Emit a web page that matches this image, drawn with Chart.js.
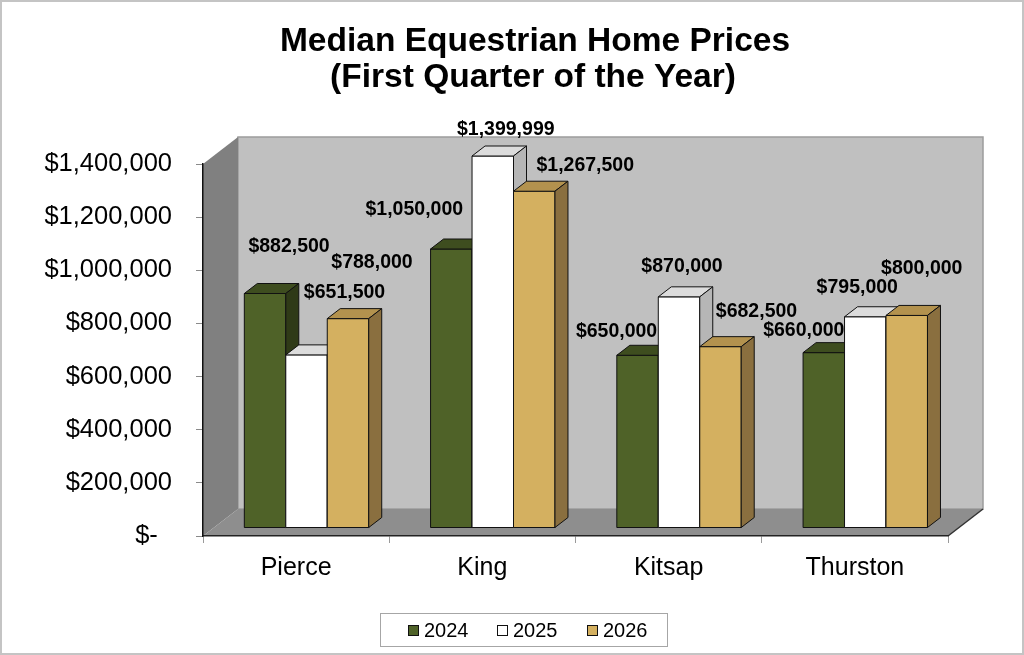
<!DOCTYPE html>
<html><head><meta charset="utf-8">
<script src="https://cdn.jsdelivr.net/npm/chart.js@4.4.1/dist/chart.umd.min.js"></script>
<style>html,body{margin:0;padding:0;background:#fff;overflow:hidden}canvas{display:block}</style>
</head><body>
<canvas id="c" width="1024" height="655"></canvas>
<script>
// ---- data ----
const categories = ['Pierce', 'King', 'Kitsap', 'Thurston'];
const seriesNames = ['2024', '2025', '2026'];
const values2024 = [882500, 1050000, 650000, 660000];
const values2025 = [651500, 1399999, 870000, 795000];
const values2026 = [788000, 1267500, 682500, 800000];
const yMin = 0, yMax = 1400000, yStep = 200000;
const titleLines = ['Median Equestrian Home Prices', '(First Quarter of the Year)'];

// ---- layout / style ----
const FONT = "'Liberation Sans', Arial, Helvetica, sans-serif";
const palette = [
  {front: '#4f6228', top: '#3e4d1f', side: '#2f3a17'},
  {front: '#ffffff', top: '#dcdcdc', side: '#b6b6b6'},
  {front: '#d4b060', top: '#b3924e', side: '#8a6f3f'}
];
const BAR_SHIFT = {x: 10.4, y: -8};
const BAR_DEPTH = {x: 13, y: -10};
const WALL_DEPTH = {x: 35, y: -27};
// manual data-label nudges (dataset -> category -> [dx, dy]) relative to bar front-top centre
const labelNudge = [
  [[24, -47], [-37, -39], [-21, -24], [-20, -22]],
  [[38, -62], [13, -26], [3, -30], [-8, -29]],
  [[24, -56], [51, -26], [36, -35], [15, -47]]
];

function poly(ctx, pts, fill, stroke, lw) {
  ctx.beginPath();
  ctx.moveTo(pts[0][0], pts[0][1]);
  for (let i = 1; i < pts.length; i++) ctx.lineTo(pts[i][0], pts[i][1]);
  ctx.closePath();
  if (fill) { ctx.fillStyle = fill; ctx.fill(); }
  if (stroke) { ctx.strokeStyle = stroke; ctx.lineWidth = lw || 1; ctx.stroke(); }
}
function money(v) { return '$' + Math.round(v).toLocaleString('en-US'); }

const scene = {
  id: 'scene',
  beforeDraw(chart) {
    const {ctx, chartArea: a, width, height} = chart;
    ctx.save();
    ctx.fillStyle = '#fff';
    ctx.fillRect(0, 0, width, height);
    const L = a.left, R = a.right, T = a.top, B = a.bottom, dx = WALL_DEPTH.x, dy = WALL_DEPTH.y;
    // back wall
    ctx.fillStyle = '#c0c0c0';
    ctx.fillRect(L + dx, T + dy, R - L, B - T);
    ctx.strokeStyle = '#9c9c9c'; ctx.lineWidth = 1.5;
    ctx.strokeRect(L + dx, T + dy, R - L, B - T);
    // left side wall
    poly(ctx, [[L, T], [L + dx, T + dy], [L + dx, B + dy], [L, B]], '#808080');
    // floor
    poly(ctx, [[L, B], [L + dx, B + dy], [R + dx, B + dy], [R, B]], '#8e8e8e');
    ctx.beginPath();
    ctx.moveTo(R, B); ctx.lineTo(R + dx, B + dy);
    ctx.strokeStyle = '#333'; ctx.lineWidth = 1.5; ctx.stroke();
    ctx.restore();
  },
  beforeDatasetsDraw(chart) {
    const ctx = chart.ctx;
    const metas = chart.data.datasets.map((d, i) => chart.getDatasetMeta(i));
    const dx = BAR_DEPTH.x, dy = BAR_DEPTH.y;
    ctx.save();
    ctx.translate(BAR_SHIFT.x, BAR_SHIFT.y);
    ctx.lineJoin = 'miter';
    const n = chart.data.labels.length;
    for (let j = 0; j < n; j++) {
      for (let i = 0; i < metas.length; i++) {
        const el = metas[i].data[j];
        const p = el.getProps(['x', 'y', 'base', 'width'], true);
        const x0 = p.x - p.width / 2, x1 = p.x + p.width / 2, yt = p.y, yb = p.base;
        const c = palette[i];
        poly(ctx, [[x0, yt], [x1, yt], [x1, yb], [x0, yb]], c.front, '#111', 1);
        poly(ctx, [[x0, yt], [x0 + dx, yt + dy], [x1 + dx, yt + dy], [x1, yt]], c.top, '#111', 1);
        poly(ctx, [[x1, yt], [x1 + dx, yt + dy], [x1 + dx, yb + dy], [x1, yb]], c.side, '#111', 1);
      }
    }
    // data labels
    ctx.fillStyle = '#000';
    ctx.font = 'bold 19.5px ' + FONT;
    ctx.textAlign = 'center';
    ctx.textBaseline = 'middle';
    for (let i = 0; i < metas.length; i++) {
      const ds = chart.data.datasets[i];
      for (let j = 0; j < n; j++) {
        const p = metas[i].data[j].getProps(['x', 'y'], true);
        const nd = labelNudge[i][j];
        ctx.fillText(money(ds.data[j]), p.x + nd[0], p.y + nd[1]);
      }
    }
    ctx.restore();
    return false;
  },
  afterDraw(chart) {
    const {ctx, width, height} = chart;
    ctx.save();
    // title
    ctx.fillStyle = '#000';
    ctx.font = 'bold 33.5px ' + FONT;
    ctx.textAlign = 'center';
    ctx.textBaseline = 'alphabetic';
    ctx.fillText(titleLines[0], 535, 51);
    ctx.fillText(titleLines[1], 533, 87);
    // legend
    const bx = 380, by = 613, bw = 287, bh = 33;
    ctx.fillStyle = '#fff';
    ctx.fillRect(bx, by, bw, bh);
    ctx.strokeStyle = '#a6a6a6'; ctx.lineWidth = 1;
    ctx.strokeRect(bx + 0.5, by + 0.5, bw, bh);
    const itemX = [408, 497, 587];
    ctx.font = '20px ' + FONT;
    ctx.textAlign = 'left';
    ctx.textBaseline = 'middle';
    chart.data.datasets.forEach((ds, i) => {
      ctx.fillStyle = palette[i].front;
      ctx.fillRect(itemX[i] + 0.5, 625.5, 10, 10);
      ctx.strokeStyle = '#111';
      ctx.strokeRect(itemX[i] + 0.5, 625.5, 10, 10);
      ctx.fillStyle = '#000';
      ctx.fillText(ds.label, itemX[i] + 16, 631);
    });
    // outer frame
    ctx.strokeStyle = '#c4c4c4'; ctx.lineWidth = 2;
    ctx.strokeRect(1, 1, width - 2, height - 2);
    ctx.restore();
  }
};

const seriesValues = [values2024, values2025, values2026];
new Chart(document.getElementById('c'), {
  type: 'bar',
  data: {
    labels: categories,
    datasets: seriesNames.map((name, i) => ({
      label: name,
      data: seriesValues[i],
      backgroundColor: palette[i].front,
      borderColor: '#111',
      borderWidth: 1,
      categoryPercentage: 0.668,
      barPercentage: 1.0
    }))
  },
  options: {
    responsive: false,
    animation: false,
    events: [],
    layout: {padding: {left: 0, right: 76, top: 164, bottom: 0}},
    plugins: {legend: {display: false}, title: {display: false}, tooltip: {enabled: false}},
    scales: {
      x: {
        grid: {offset: true, drawOnChartArea: false, drawTicks: true, tickLength: 7, color: '#9a9a9a'},
        border: {display: true, color: '#222', width: 1.5},
        ticks: {font: {family: FONT, size: 25}, color: '#000', padding: 10, maxRotation: 0},
        afterFit(s) { s.height = 119; }
      },
      y: {
        min: yMin, max: yMax,
        grid: {drawOnChartArea: false, drawTicks: true, tickLength: 7, color: '#8a8a8a'},
        border: {display: true, color: '#111', width: 1.5},
        ticks: {
          stepSize: yStep,
          font: {family: FONT, size: 25.5}, color: '#000', padding: 24,
          callback: v => v === 0 ? '$-  ' : money(v)
        },
        afterFit(s) { s.width = 203; }
      }
    }
  },
  plugins: [scene]
});
</script>
</body></html>
